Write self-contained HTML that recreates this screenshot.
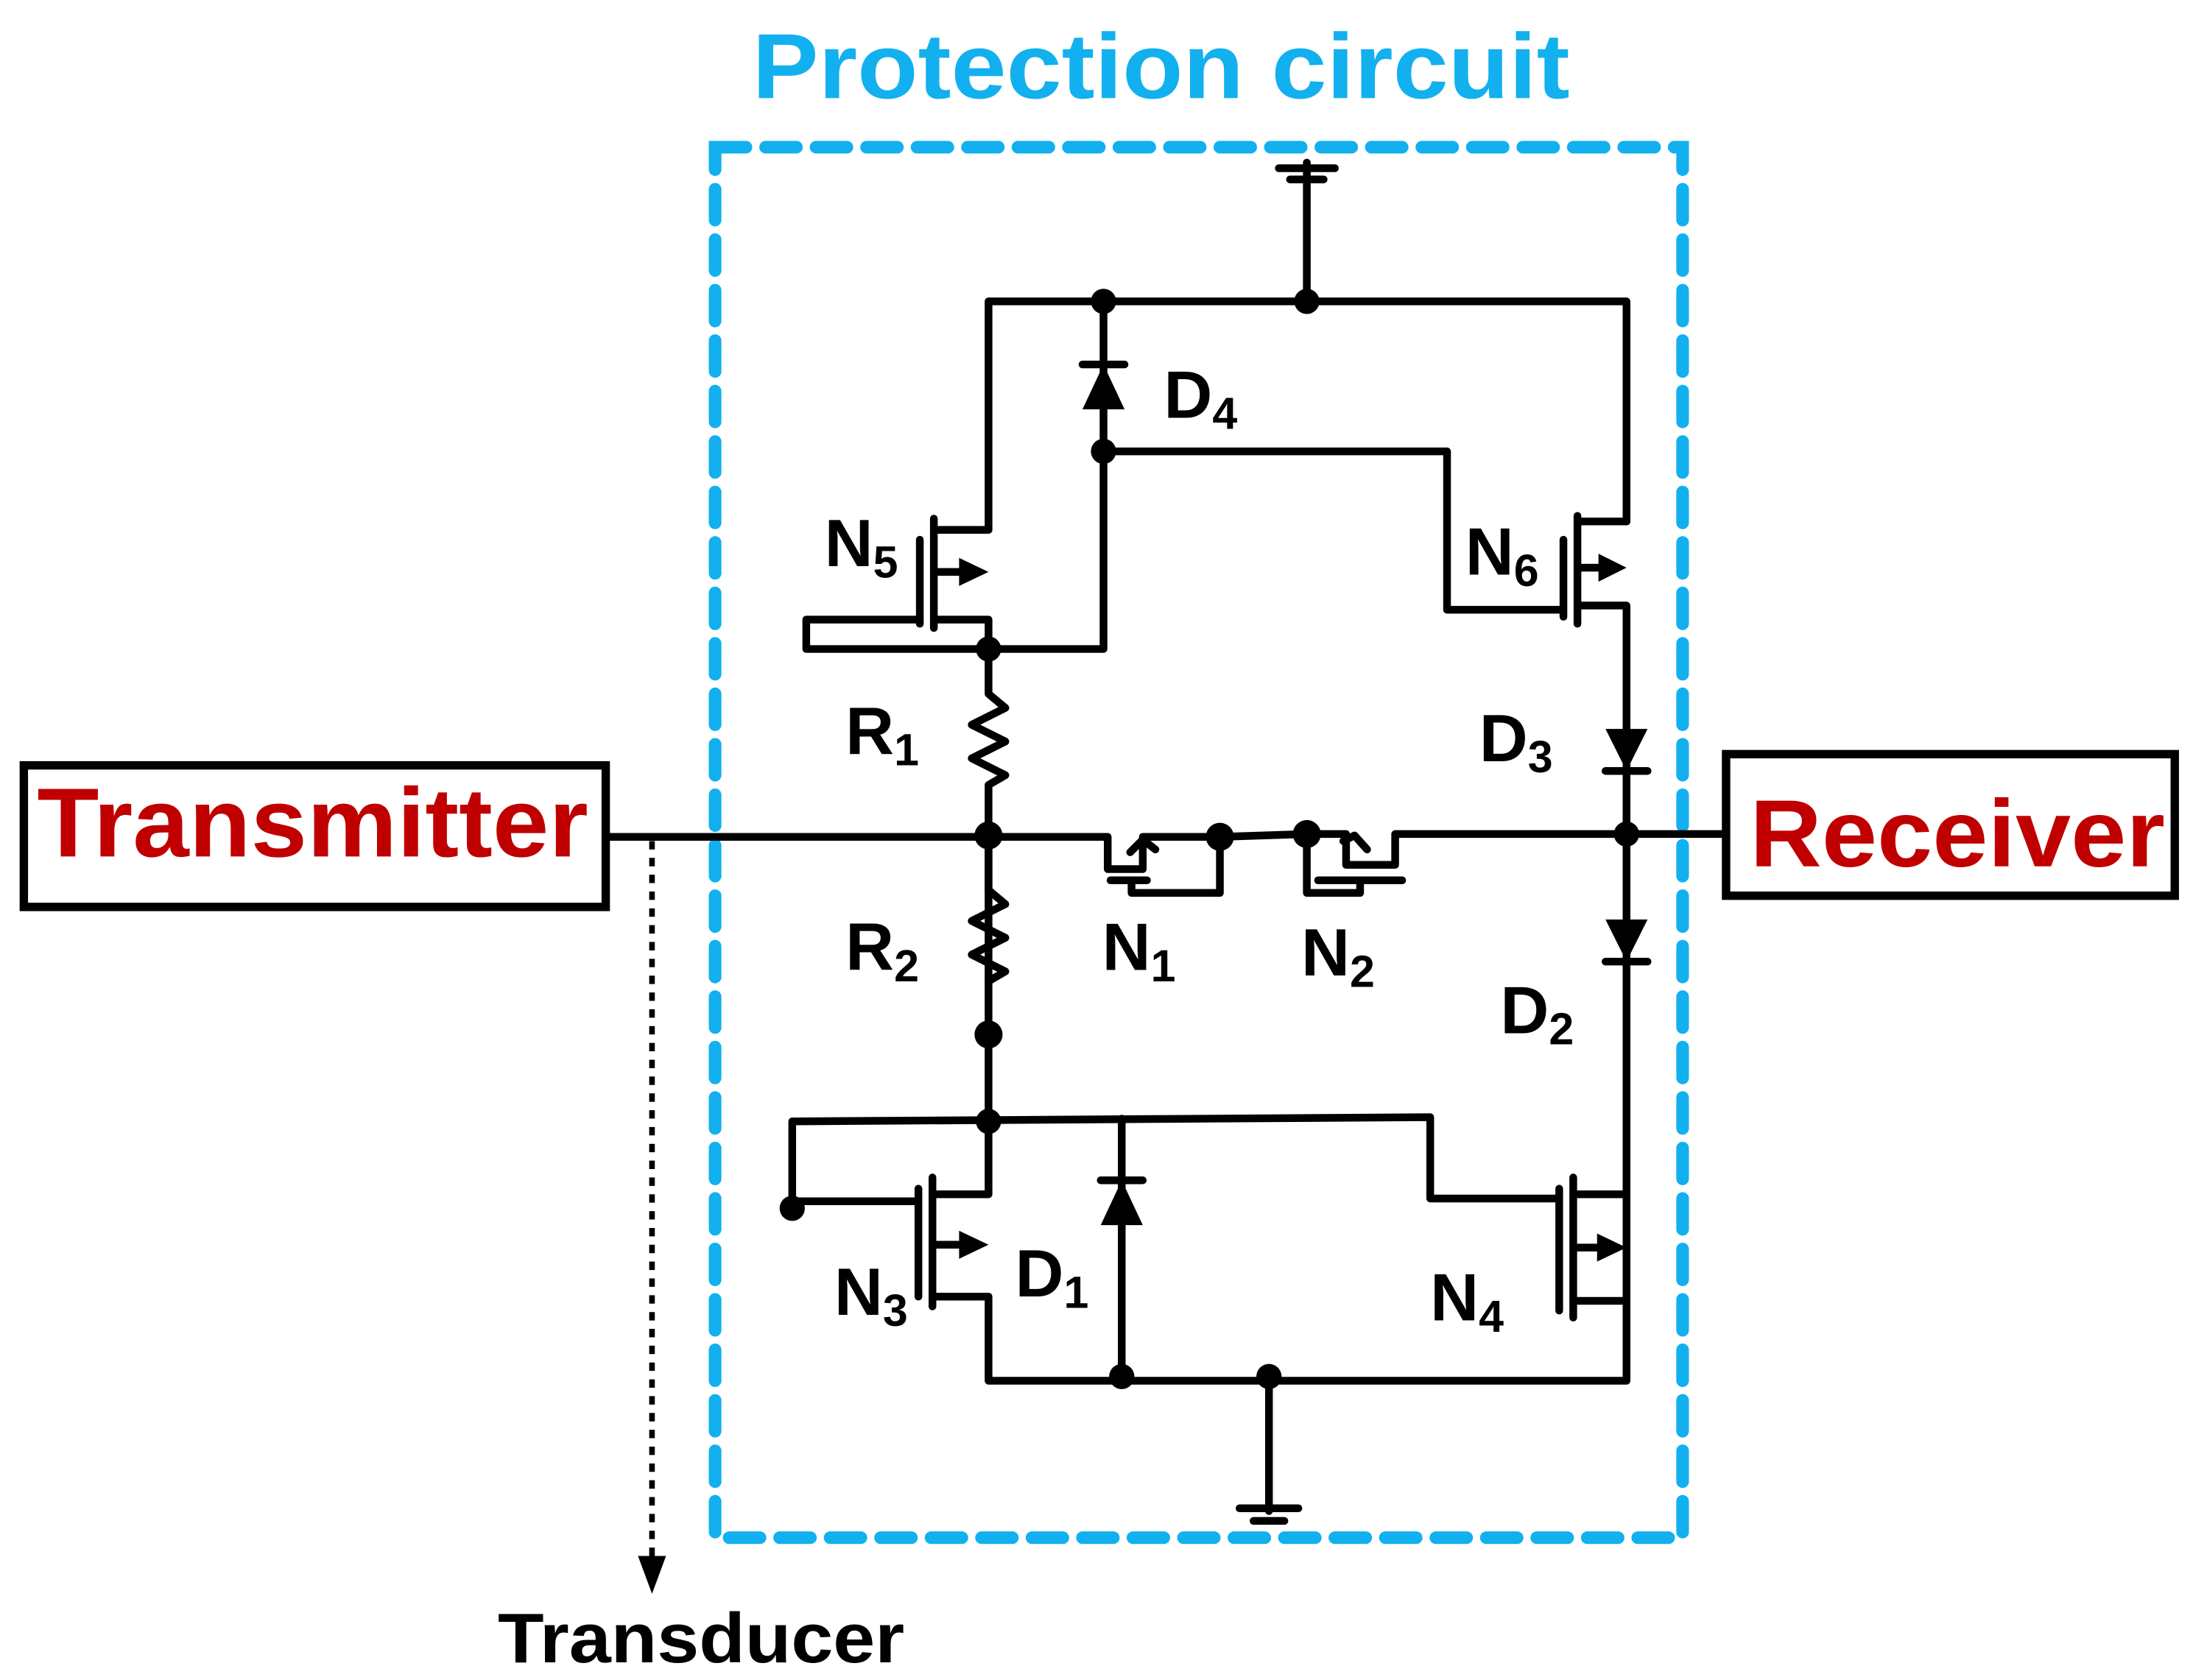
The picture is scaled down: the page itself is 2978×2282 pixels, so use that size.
<!DOCTYPE html>
<html><head><meta charset="utf-8"><style>
html,body{margin:0;padding:0;background:#fff;}
svg{display:block;}
text{font-family:"Liberation Sans",sans-serif;font-weight:bold;}
</style></head><body>
<svg width="2978" height="2282" viewBox="0 0 1564 1198.5" preserveAspectRatio="none" xmlns="http://www.w3.org/2000/svg">
<text x="828" y="70" font-size="66" fill="#12b0ee" text-anchor="middle" textLength="583" lengthAdjust="spacingAndGlyphs">Protection circuit</text>
<rect x="510" y="105" width="690" height="992" fill="none" stroke="#12b0ee" stroke-width="9" stroke-dasharray="22 14" stroke-linecap="round"/>
<g fill="none" stroke="#000" stroke-width="5.5" stroke-linecap="round" stroke-linejoin="round">
<line x1="912" y1="120" x2="952" y2="120"/><line x1="920" y1="128" x2="944" y2="128"/><line x1="932" y1="116" x2="932" y2="215"/>
<polyline points="705,378 705,215 1160,215 1160,372"/>
<line x1="656" y1="385" x2="656" y2="445"/><line x1="666" y1="370" x2="666" y2="448"/>
<line x1="666" y1="378" x2="705" y2="378"/>
<polyline points="666,442 705,442 705,463"/>
<line x1="666" y1="408" x2="690" y2="408"/>
<polyline points="656,442 575,442 575,463 787,463 787,215"/>
<line x1="772" y1="260" x2="802" y2="260"/>
<polyline points="787,322 1032,322 1032,435 1115,435"/>
<line x1="1115" y1="385" x2="1115" y2="440"/><line x1="1125" y1="368" x2="1125" y2="445"/>
<line x1="1125" y1="372" x2="1160" y2="372"/>
<polyline points="1125,432 1160,432 1160,985 705,985 705,925 666,925"/>
<line x1="1125" y1="405" x2="1148" y2="405"/>
<line x1="1145" y1="550" x2="1175" y2="550"/><line x1="1145" y1="686" x2="1175" y2="686"/>
<polyline points="705,463 705,495 717,505 693,517 717,529 693,541 717,553 705,560 705,745"/>
<polyline points="705,595 705,635 717,645 693,657 717,669 693,681 717,693 705,700"/>
<polyline points="435,597 790,597 790,620 815,620 815,600"/>
<line x1="792" y1="628" x2="818" y2="628"/>
<polyline points="807,628 807,637 870,637 870,597"/>
<line x1="815" y1="597" x2="870" y2="597"/>
<line x1="870" y1="597" x2="932" y2="595"/>
<line x1="932" y1="595" x2="960" y2="595"/>
<polyline points="960,598 960,617 995,617 995,595 1230,595"/>
<line x1="940" y1="628" x2="1000" y2="628"/>
<polyline points="932,595 932,637 970,637 970,628"/>
<polyline points="705,745 705,852 666,852"/>
<polyline points="565,860 565,800 1020,797 1020,855 1112,855"/>
<line x1="565" y1="857" x2="655" y2="857"/>
<line x1="655" y1="848" x2="655" y2="925"/><line x1="665" y1="840" x2="665" y2="932"/>
<line x1="665" y1="888" x2="690" y2="888"/>
<line x1="800" y1="798" x2="800" y2="985"/>
<line x1="785" y1="842" x2="815" y2="842"/>
<line x1="1112" y1="848" x2="1112" y2="935"/><line x1="1122" y1="840" x2="1122" y2="940"/>
<line x1="1122" y1="852" x2="1160" y2="852"/><line x1="1122" y1="928" x2="1160" y2="928"/>
<line x1="1122" y1="890" x2="1145" y2="890"/>
<line x1="905" y1="985" x2="905" y2="1078"/><line x1="884" y1="1076" x2="926" y2="1076"/><line x1="894" y1="1085" x2="916" y2="1085"/>
<polyline points="806,608 815,599 824,606"/>
<polyline points="958,600 966,596 975,606"/>
</g>
<g fill="#000">
<polygon points="787,260 772,292 802,292"/>
<polygon points="705,408 684,398 684,418"/>
<polygon points="1160,405 1140,395 1140,415"/>
<polygon points="1160,550 1145,520 1175,520"/>
<polygon points="1160,686 1145,656 1175,656"/>
<polygon points="705,888 684,878 684,898"/>
<polygon points="800,842 785,874 815,874"/>
<polygon points="1160,890 1139,880 1139,900"/>
<circle cx="787" cy="215" r="9"/><circle cx="932" cy="215" r="9"/><circle cx="787" cy="322" r="9"/>
<circle cx="705" cy="463" r="9"/><circle cx="705" cy="596" r="10"/><circle cx="870" cy="597" r="10"/><circle cx="932" cy="595" r="10"/>
<circle cx="1160" cy="595" r="9"/><circle cx="705" cy="738" r="10"/><circle cx="705" cy="800" r="9"/>
<circle cx="565" cy="862" r="9"/><circle cx="800" cy="982" r="9"/><circle cx="905" cy="982" r="9"/>
</g>
<rect x="17" y="546" width="415" height="101" fill="none" stroke="#000" stroke-width="6"/>
<rect x="1231" y="538" width="320" height="101" fill="none" stroke="#000" stroke-width="6"/>
<text x="223" y="611" font-size="70" fill="#c00000" text-anchor="middle" textLength="393" lengthAdjust="spacingAndGlyphs">Transmitter</text>
<text x="1396" y="618" font-size="68" fill="#c00000" text-anchor="middle" textLength="296" lengthAdjust="spacingAndGlyphs">Receiver</text>
<line x1="465" y1="600" x2="465" y2="1115" stroke="#000" stroke-width="4" stroke-dasharray="6 6"/>
<polygon points="465,1137 455,1110 475,1110" fill="#000"/>
<text x="500" y="1186" font-size="50" text-anchor="middle" textLength="290" lengthAdjust="spacingAndGlyphs">Transducer</text>
<g font-size="48">
<text x="830" y="298">D<tspan font-size="32" dy="8">4</tspan></text>
<text x="588" y="404">N<tspan font-size="32" dy="8">5</tspan></text>
<text x="1045" y="410">N<tspan font-size="32" dy="8">6</tspan></text>
<text x="603" y="538">R<tspan font-size="32" dy="8">1</tspan></text>
<text x="603" y="692">R<tspan font-size="32" dy="8">2</tspan></text>
<text x="1055" y="543">D<tspan font-size="32" dy="8">3</tspan></text>
<text x="786" y="692">N<tspan font-size="32" dy="8">1</tspan></text>
<text x="928" y="696">N<tspan font-size="32" dy="8">2</tspan></text>
<text x="1070" y="737">D<tspan font-size="32" dy="8">2</tspan></text>
<text x="595" y="938">N<tspan font-size="32" dy="8">3</tspan></text>
<text x="724" y="925">D<tspan font-size="32" dy="8">1</tspan></text>
<text x="1020" y="942">N<tspan font-size="32" dy="8">4</tspan></text>
</g>
</svg>
</body></html>
